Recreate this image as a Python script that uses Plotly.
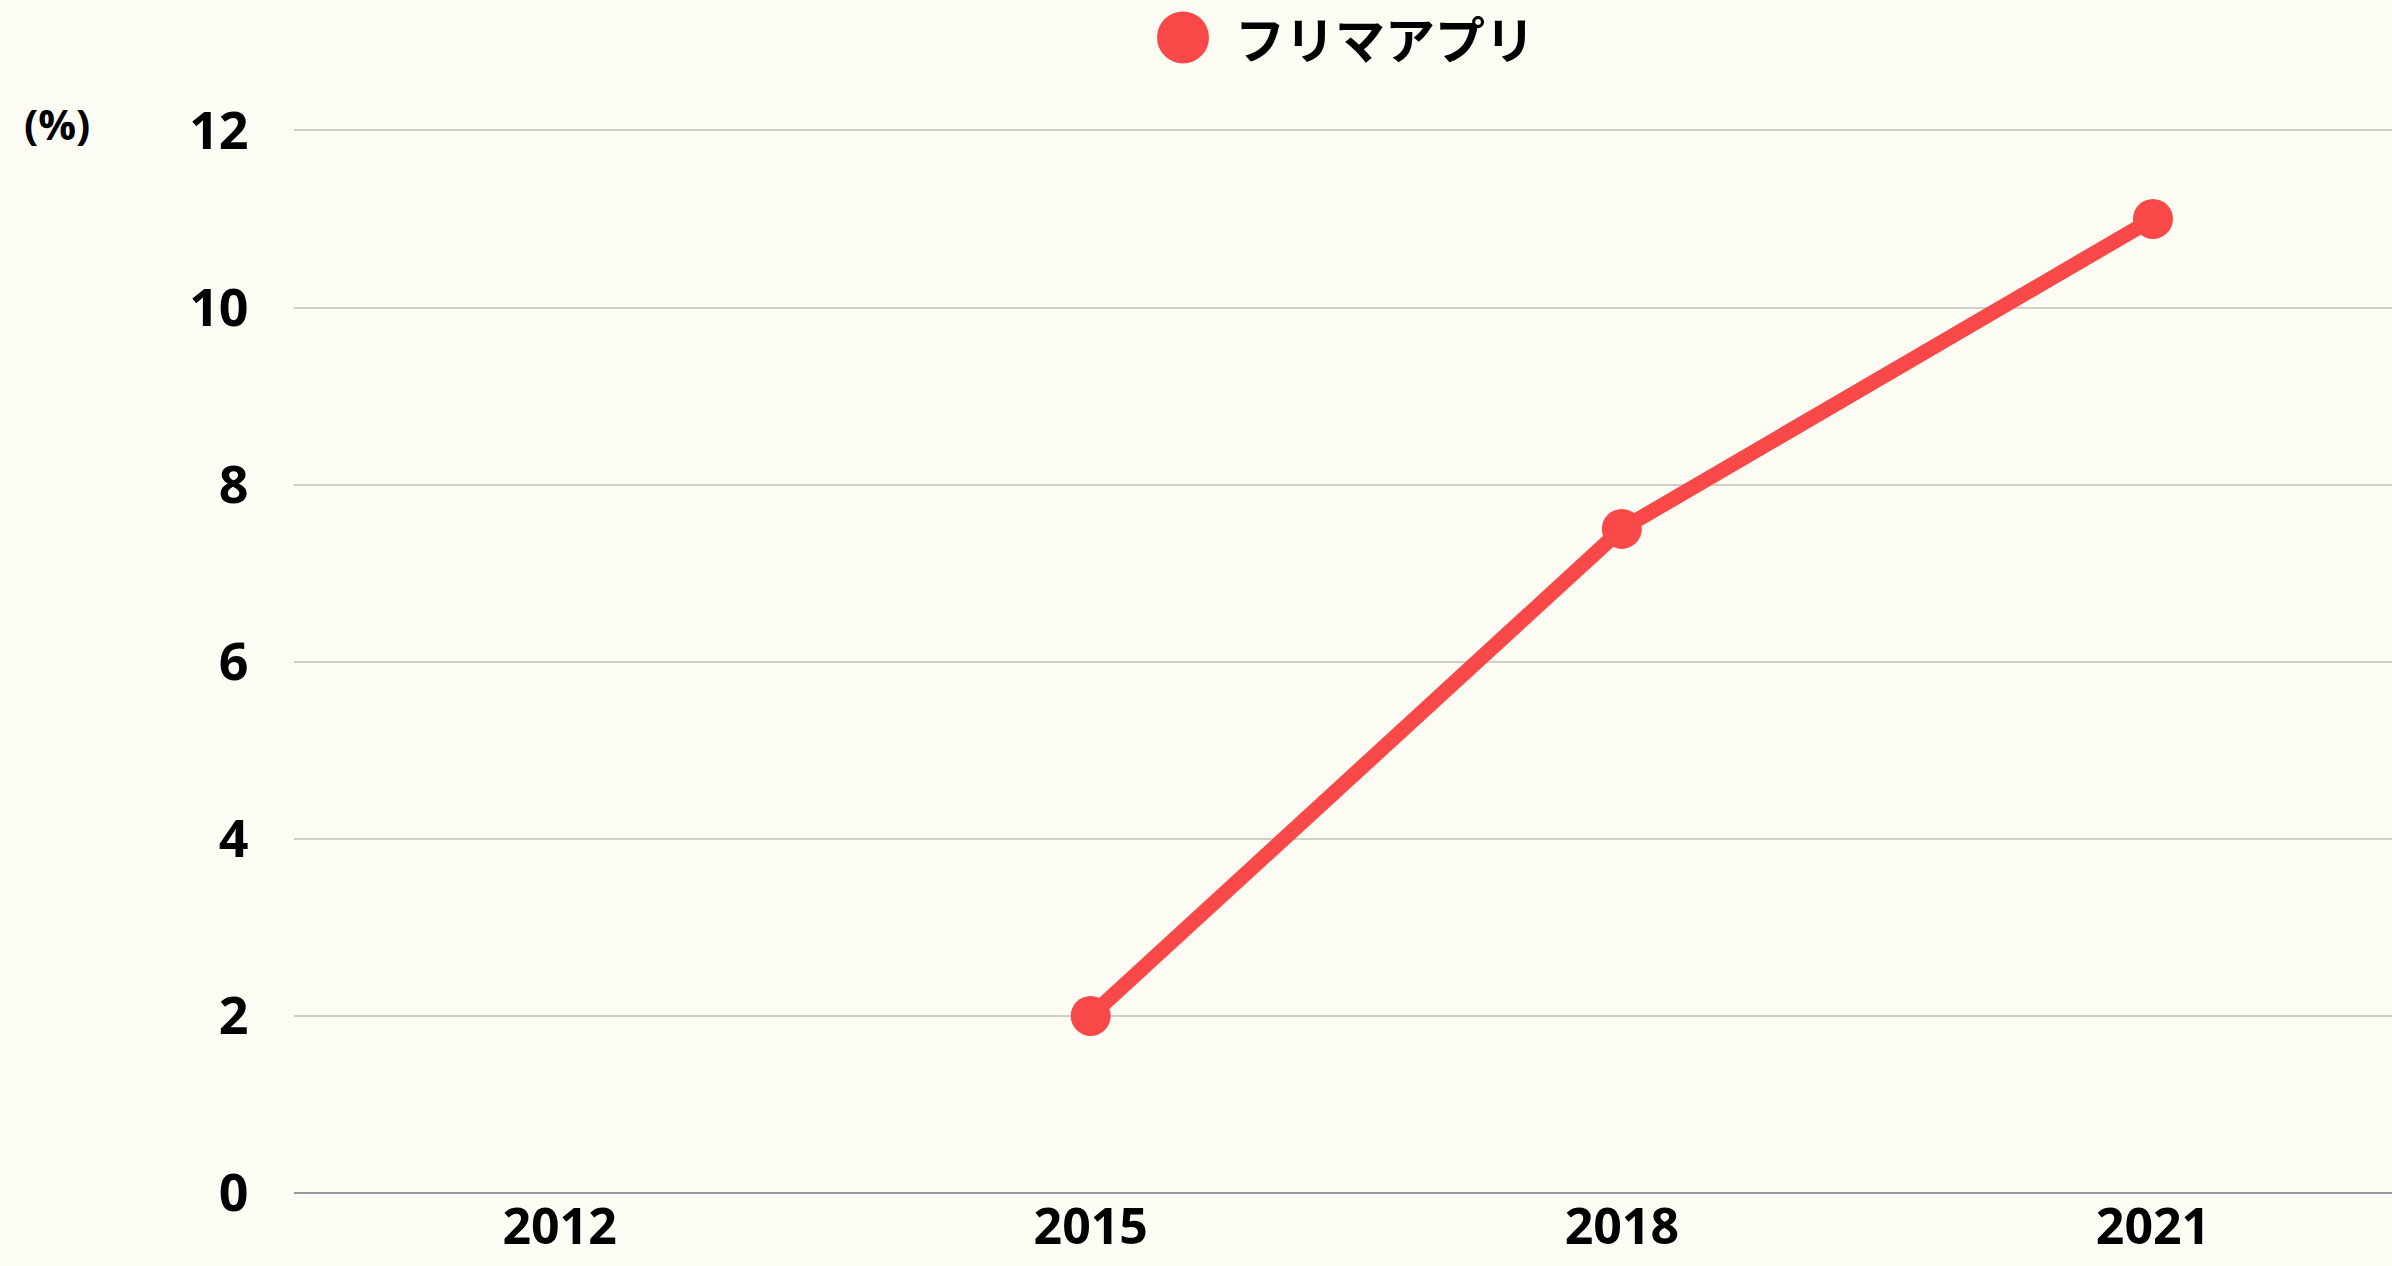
import plotly.graph_objects as go

years = ["2012", "2015", "2018", "2021"]
values = [None, 2, 7.5, 11]
series_name = "フリマアプリ"
y_ticks = [0, 2, 4, 6, 8, 10, 12]

RED = "#F94848"
BG = "#FCFCF5"

# y pixel scale: 0 at 1193, 12 at 130 -> 88.58 px per unit
Y_TOP = 12.05
T_MARGIN = 130 - (Y_TOP - 12) * (1063 / 12)

fig = go.Figure()
fig.add_trace(go.Scatter(
    x=years, y=values, mode="lines+markers", name=series_name,
    line=dict(color=RED, width=15),
    marker=dict(color=RED, size=40),
    connectgaps=False, showlegend=False,
))

PH = 1266 - T_MARGIN - 73  # plot height in px


def py(pix):
    """paper y for a page pixel row"""
    return (1193 - pix) / PH


fig.update_layout(
    width=2392, height=1266,
    margin=dict(l=294, r=0, t=T_MARGIN, b=73),
    paper_bgcolor=BG, plot_bgcolor=BG,
    xaxis=dict(
        type="category", range=[-0.5, 3.45], automargin=False,
        showgrid=False, zeroline=False, showline=False,
        tickfont=dict(family="Open Sans", size=50, color="#000", weight="bold"),
        ticks="", ticklen=0,
    ),
    yaxis=dict(
        range=[0, Y_TOP], tickvals=y_ticks, automargin=False,
        showgrid=True, gridcolor="#CFCFC8", gridwidth=1.5,
        zeroline=True, zerolinecolor="#999999", zerolinewidth=2,
        showline=False,
        tickfont=dict(family="Open Sans", size=52, color="#000", weight="bold"),
        ticks="outside", ticklen=34, tickcolor="rgba(0,0,0,0)",
    ),
    annotations=[
        dict(text="<b>(%)</b>", xref="paper", yref="paper", x=-(294 - 22) / 2098,
             y=py(123),
             xanchor="left", yanchor="middle", showarrow=False,
             font=dict(family="Open Sans", size=42, color="#000")),
        dict(text="<b>" + series_name + "</b>", xref="paper", yref="paper",
             x=(1233 - 294) / 2098, y=py(37),
             xanchor="left", yanchor="middle", showarrow=False,
             font=dict(family="Noto Sans CJK JP", size=50, color="#000")),
    ],
    shapes=[
        dict(type="circle", xref="paper", yref="paper",
             x0=(1157 - 294) / 2098, x1=(1209 - 294) / 2098,
             y0=py(63), y1=py(11),
             fillcolor=RED, line=dict(width=0), layer="above"),
    ],
)

fig.write_html("out.html", config={"displayModeBar": False},
               post_script="document.body.style.margin='0';")
